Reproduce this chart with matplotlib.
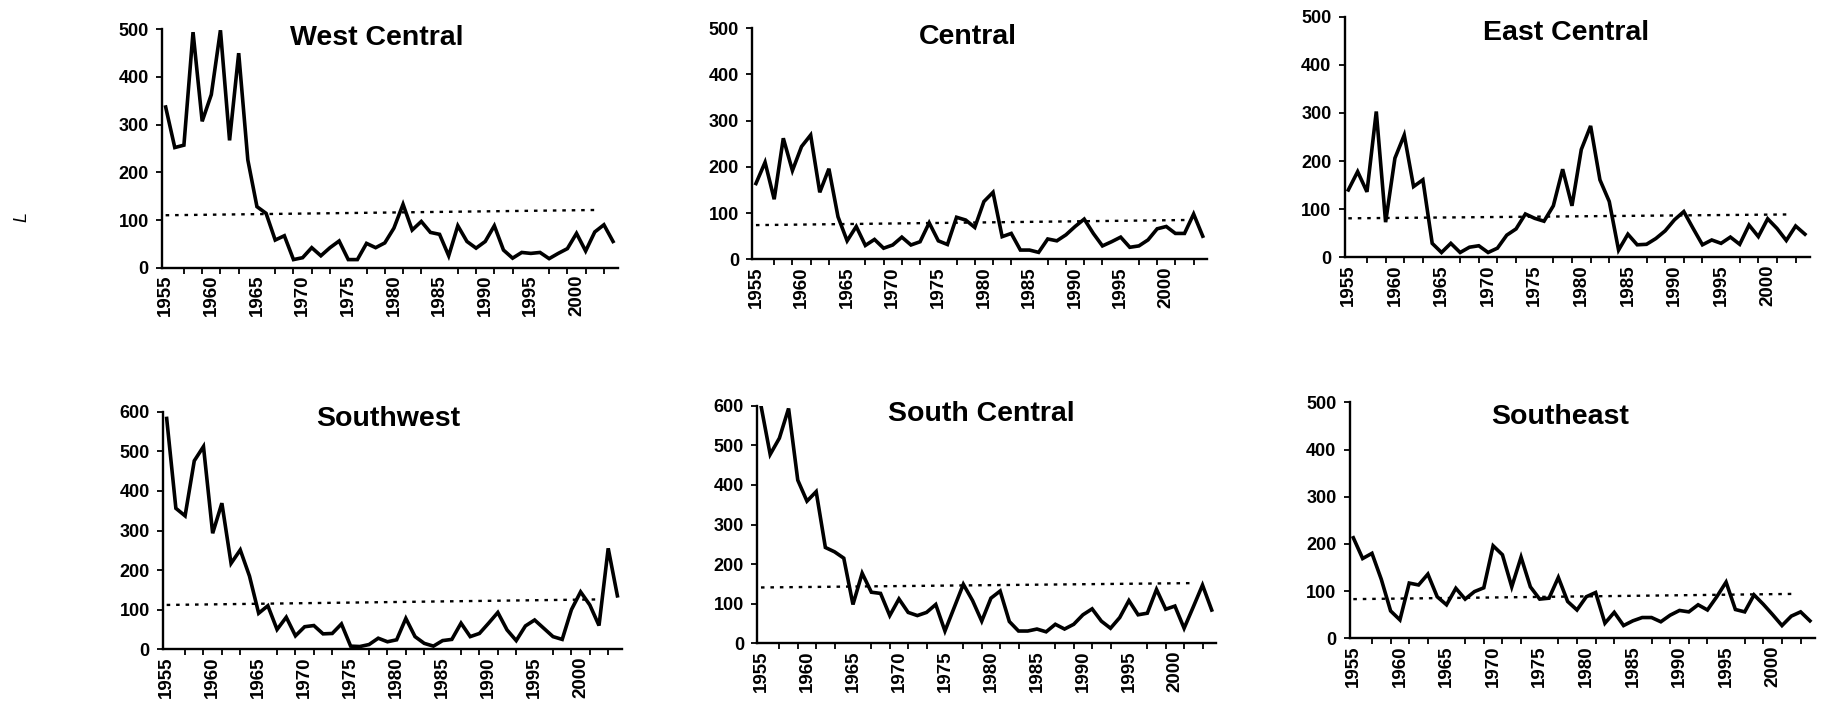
import matplotlib
matplotlib.use("Agg")
import matplotlib.pyplot as plt
import numpy as np

plt.rcParams['font.family'] = ['Liberation Sans', 'DejaVu Sans']

years = list(range(1955, 2005))

west_central = [337, 252, 257, 494, 307, 363, 498, 267, 450, 226,
                128, 114, 58, 67, 17, 21, 42, 25, 42, 56,
                17, 17, 51, 42, 52, 83, 133, 79, 97, 74,
                70, 25, 88, 55, 41, 55, 88, 37, 20, 32,
                30, 32, 19, 30, 40, 72, 35, 75, 90, 55]

central = [164, 210, 130, 262, 192, 244, 269, 145, 196, 92,
           40, 71, 30, 43, 24, 31, 48, 31, 38, 79,
           40, 32, 91, 85, 69, 125, 145, 49, 56, 20,
           20, 15, 44, 40, 53, 71, 87, 56, 29, 38,
           48, 26, 29, 42, 66, 71, 56, 56, 98, 50]

east_central = [140, 178, 136, 303, 73, 206, 254, 147, 161, 29,
                10, 29, 10, 21, 24, 10, 19, 46, 59, 90,
                81, 75, 107, 183, 107, 224, 273, 161, 116, 15,
                48, 26, 27, 39, 55, 78, 95, 60, 26, 36,
                29, 42, 27, 67, 43, 80, 60, 35, 65, 48]

southwest = [583, 356, 337, 476, 512, 293, 369, 217, 251, 185,
             91, 110, 50, 81, 34, 57, 60, 39, 40, 64,
             8, 7, 12, 28, 19, 24, 78, 32, 15, 8,
             22, 25, 66, 32, 40, 66, 93, 49, 22, 59,
             74, 53, 32, 25, 100, 145, 112, 60, 255, 135]

south_central = [600, 477, 518, 593, 412, 359, 383, 242, 231, 215,
                 98, 177, 129, 126, 70, 112, 78, 70, 78, 98,
                 31, 90, 149, 108, 56, 114, 132, 55, 31, 31,
                 36, 29, 48, 36, 48, 72, 87, 56, 38, 65,
                 108, 72, 76, 136, 86, 94, 38, 92, 147, 84]

southeast = [213, 169, 180, 125, 58, 39, 117, 113, 136, 88,
             71, 106, 83, 99, 107, 196, 177, 109, 172, 109,
             83, 85, 129, 78, 60, 88, 97, 32, 55, 27,
             37, 44, 44, 35, 49, 59, 56, 71, 60, 88,
             119, 61, 56, 92, 72, 50, 27, 47, 56, 37]

trend_years = [1955, 2002]
trend_wc = [110, 121]
trend_c = [74, 85]
trend_ec = [81, 89]
trend_sw = [112, 126]
trend_sc = [141, 152]
trend_se = [83, 94]

titles = ["West Central", "Central", "East Central",
          "Southwest", "South Central", "Southeast"]
label_years = list(range(1955, 2001, 5))
tick_years = list(range(1955, 2005, 2))

W, H = 1822, 717
fig = plt.figure(figsize=(W / 100, H / 100), dpi=100)

# (left_px, top_px, bottom_px, width_px, ymax, title_xfrac, title_yfrac)
layout = [
    (162.0, 29.3, 267.7, 455.6, 500, 0.472, 0.965),
    (752.3, 28.3, 259.3, 455.0, 500, 0.474, 0.964),
    (1344.6, 16.7, 257.3, 465.0, 500, 0.476, 0.932),
    (163.0, 411.7, 649.3, 459.0, 600, 0.490, 0.968),
    (757.3, 405.7, 643.3, 459.0, 600, 0.487, 0.964),
    (1349.6, 402.3, 638.3, 465.0, 500, 0.452, 0.939),
]
series = [west_central, central, east_central, southwest, south_central, southeast]
trends = [trend_wc, trend_c, trend_ec, trend_sw, trend_sc, trend_se]

for (lp, tp, bp, wp, ymax, tx, ty), vals, tr, title in zip(layout, series, trends, titles):
    ax = fig.add_axes([lp / W, 1 - bp / H, wp / W, (bp - tp) / H])
    ax.plot(years, vals, color='black', lw=2.6, solid_joinstyle='miter')
    ax.plot(trend_years, tr, color='black', lw=1.7, dashes=(1.5, 2.5))
    ax.set_xlim(1954.6, 2004.5)
    ax.set_ylim(0, ymax)
    ax.set_yticks(range(0, ymax + 1, 100))
    ax.set_xticks(label_years)
    ax.set_xticklabels([str(y) for y in label_years], rotation=90, fontweight='bold')
    for lab in ax.get_yticklabels():
        lab.set_fontweight('bold')
    ax.set_xticks(tick_years, minor=True)
    ax.tick_params(axis='x', which='major', length=0, pad=5, labelsize=13.5)
    ax.tick_params(axis='x', which='minor', length=4.5, width=1.3, direction='out')
    ax.tick_params(axis='y', which='major', length=4.5, width=1.3, direction='out',
                   pad=5, labelsize=13)
    for s in ['top', 'right']:
        ax.spines[s].set_visible(False)
    for s in ['left', 'bottom']:
        ax.spines[s].set_linewidth(1.7)
    ax.text(tx, ty, title, transform=ax.transAxes, ha='center', va='center',
            fontsize=20.5, fontweight='bold')

fig.text(22 / W, 1 - 217 / H, 'L', rotation=90, style='italic', fontsize=13,
         ha='center', va='center')

fig.savefig('out.png', dpi=100, facecolor='white')
